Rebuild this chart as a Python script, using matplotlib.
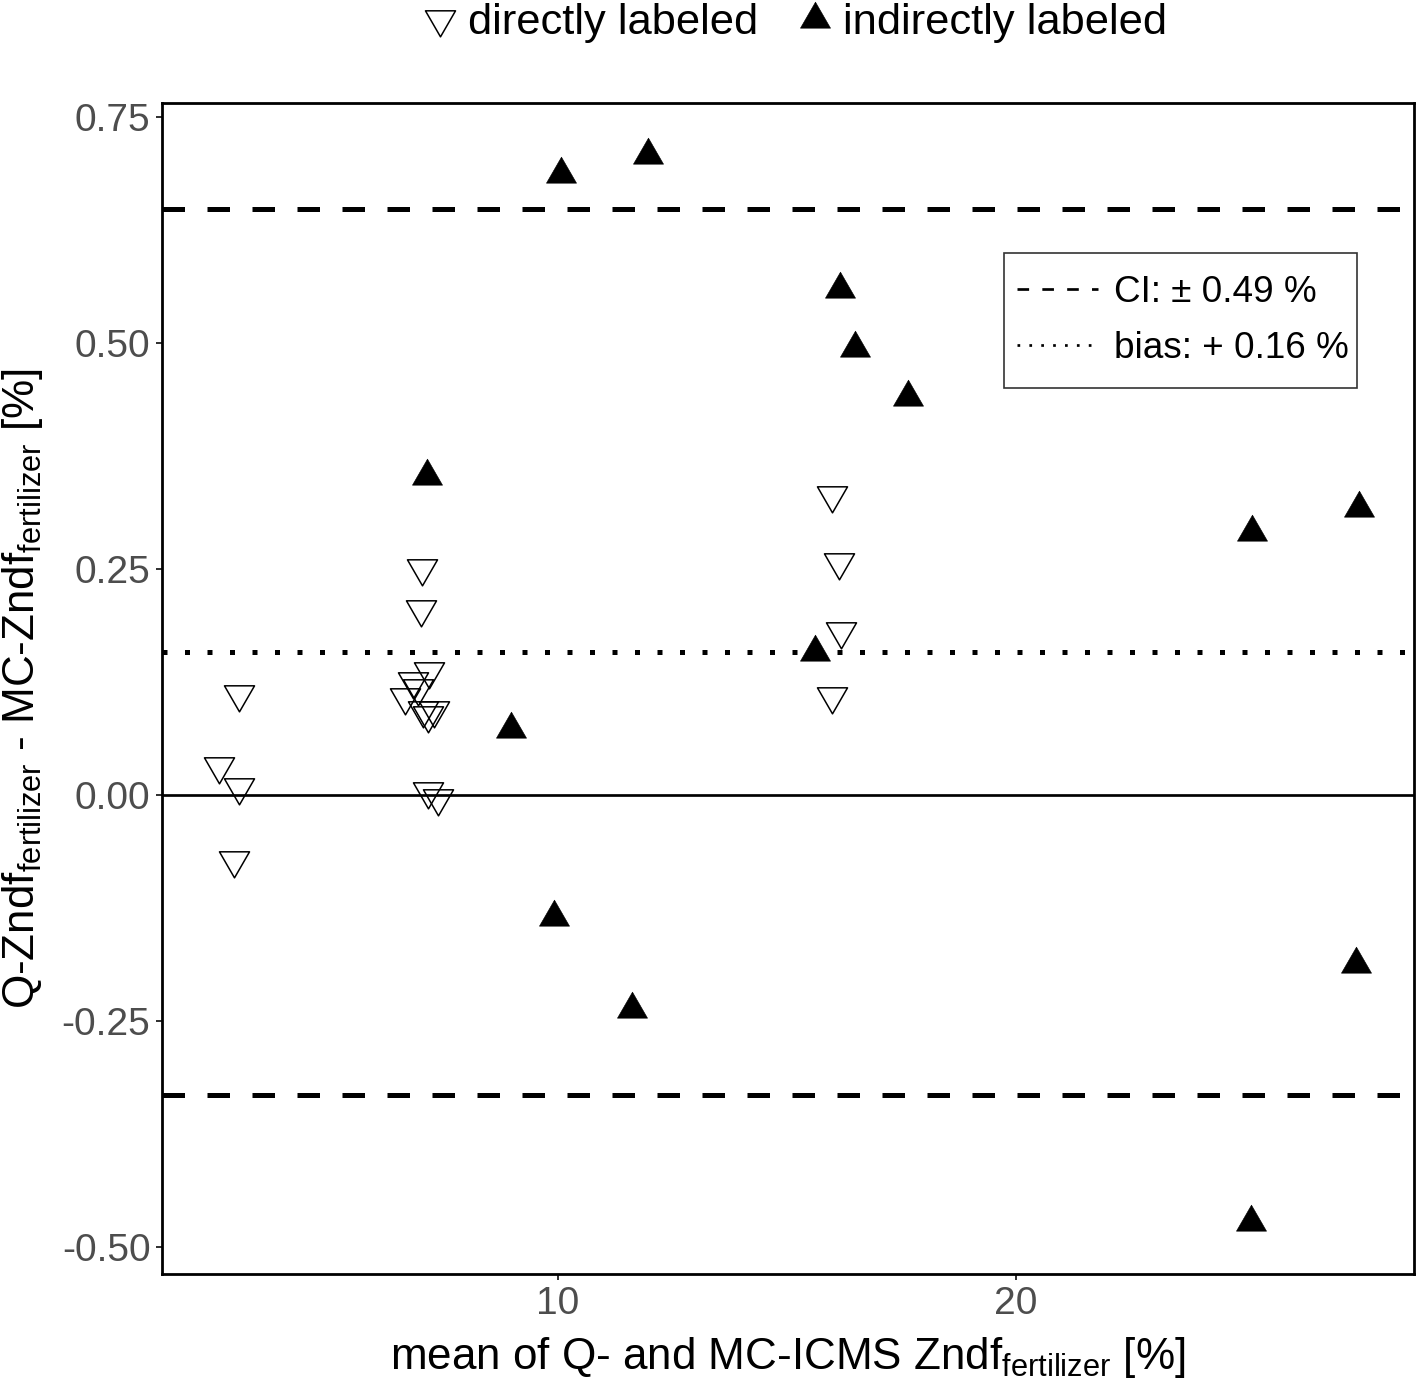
import matplotlib
matplotlib.use('Agg')
import matplotlib.pyplot as plt
from matplotlib.path import Path
from matplotlib.lines import Line2D
from matplotlib.patches import Rectangle

plt.rcParams['font.family'] = ['Liberation Sans', 'DejaVu Sans']
plt.rcParams['mathtext.fontset'] = 'custom'
plt.rcParams['mathtext.rm'] = 'Liberation Sans'
plt.rcParams['mathtext.it'] = 'Liberation Sans:italic'

# ---------------- data ----------------
direct_x = [2.60, 3.04, 3.035, 2.93,
            7.02, 7.00, 7.19, 6.83, 6.94, 6.66, 7.05, 7.30, 7.16, 7.17, 7.39,
            15.98, 16.14, 16.17, 15.99]
direct_y = [0.032, 0.009, 0.112, -0.072,
            0.251, 0.206, 0.1375, 0.126, 0.118, 0.108, 0.0945, 0.0945, 0.0885, 0.004, -0.003,
            0.332, 0.258, 0.181, 0.109]

indirect_x = [10.07, 11.97, 16.15, 16.49, 17.64, 7.15, 25.15, 27.49, 8.98, 15.61,
              9.91, 11.61, 27.43, 25.13]
indirect_y = [0.687, 0.7075, 0.560, 0.494, 0.440, 0.353, 0.291, 0.317, 0.073, 0.158,
              -0.1355, -0.237, -0.187, -0.472]

bias = 0.158
ci = 0.49

group_labels = ['directly labeled', 'indirectly labeled']
line_labels = ['CI: \u00b1 0.49 %', 'bias: + 0.16 %']

x_ticks = [10, 20]
x_tick_labels = ['10', '20']
y_ticks = [0.75, 0.50, 0.25, 0.00, -0.25, -0.50]
y_tick_labels = ['0.75', '0.50', '0.25', '0.00', '-0.25', '-0.50']

x_label = 'mean of Q- and MC-ICMS Zndf$_{\\mathregular{fertilizer}}$ [%]'
y_label = ('Q-Zndf$_{\\mathregular{fertilizer}}$ - '
           'MC-Zndf$_{\\mathregular{fertilizer}}$ [%]')

# ---------------- style ----------------
PX = 72 / 100.0  # points per pixel
W, H = 1417, 1380
AX_L, AX_R, AX_T, AX_B = 162, 1414, 103, 1274

s3 = 0.8660254
up_tri = Path([(0, 1), (-s3, -0.5), (s3, -0.5), (0, 1)],
              [Path.MOVETO, Path.LINETO, Path.LINETO, Path.CLOSEPOLY])
down_tri = Path([(0, -1), (-s3, 0.5), (s3, 0.5), (0, -1)],
                [Path.MOVETO, Path.LINETO, Path.LINETO, Path.CLOSEPOLY])

fig = plt.figure(figsize=(W / 100, H / 100), dpi=100)
ax = fig.add_axes([AX_L / W, (H - AX_B) / H, (AX_R - AX_L) / W, (AX_B - AX_T) / H])


def ax_frac(px, py):
    return (px - AX_L) / (AX_R - AX_L), (AX_B - py) / (AX_B - AX_T)


ax.set_xlim(1.354, 28.69)
ax.set_ylim(-0.5299, 0.7655)

ax.axhline(0, color='black', lw=2.7 * PX, zorder=2)
ax.axhline(bias + ci, color='black', lw=5 * PX, linestyle=(0, (4.5, 4.5)), zorder=2)
ax.axhline(bias - ci, color='black', lw=5 * PX, linestyle=(0, (4.5, 4.5)), zorder=2)
ax.axhline(bias, color='black', lw=5 * PX, linestyle=(0, (1, 3.5)), zorder=2)

ms = 25
ax.plot(direct_x, direct_y, linestyle='none', marker=down_tri, ms=ms,
        mfc='none', mec='black', mew=1.1, zorder=3)
ax.plot(indirect_x, indirect_y, linestyle='none', marker=up_tri, ms=ms,
        mfc='black', mec='black', mew=0.4, zorder=3)

ax.set_xticks(x_ticks)
ax.set_xticklabels(x_tick_labels)
ax.set_yticks(y_ticks)
ax.set_yticklabels(y_tick_labels)
ax.tick_params(direction='out', length=6 * PX, width=2 * PX, color='#333333',
               labelcolor='#4D4D4D', labelsize=28, pad=4)
for sp in ax.spines.values():
    sp.set_linewidth(2.0)
    sp.set_color('black')

ax.set_xlabel(x_label, fontsize=31.7, labelpad=10)
ax.set_ylabel(y_label, fontsize=31.7, labelpad=12)

# inner legend for lines (frame drawn separately)
bx0, by0 = ax_frac(1004, 388)
bx1, by1 = ax_frac(1357, 253)
ax.add_patch(Rectangle((bx0, by0), bx1 - bx0, by1 - by0, transform=ax.transAxes,
                       facecolor='white', edgecolor='#333333', lw=1.2, zorder=4))
h_ci = Line2D([], [], color='black', lw=2.7 * PX, linestyle=(0, (4.3, 4.9)))
h_bias = Line2D([], [], color='black', lw=2.7 * PX, linestyle=(0, (1, 3.4)))
lx, ly = ax_frac(1017, 320.5)
leg = ax.legend([h_ci, h_bias], line_labels, loc='center left',
                bbox_to_anchor=(lx, ly), fontsize=26.6, handlelength=2.2,
                handletextpad=0.43, borderpad=0, labelspacing=0.59,
                borderaxespad=0, frameon=False)
leg.set_zorder(5)

# top legend for groups
g_down = Line2D([], [], linestyle='none', marker=down_tri, ms=ms, mfc='none',
                mec='black', mew=1.1)
g_up = Line2D([], [], linestyle='none', marker=up_tri, ms=ms, mfc='black',
              mec='black', mew=0.4)
fig.legend([g_down, g_up], group_labels, loc='center',
           bbox_to_anchor=(795 / W, 1 - 23 / H), ncol=2, frameon=False,
           fontsize=31.3, handlelength=0.8, handletextpad=0.25,
           columnspacing=0.9, borderpad=0)

fig.savefig('out.png', dpi=100)
